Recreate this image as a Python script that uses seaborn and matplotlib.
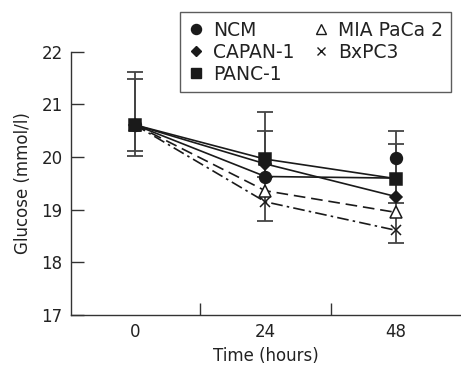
import pandas as pd
import numpy as np
import matplotlib.pyplot as plt
import seaborn as sns
from matplotlib.lines import Line2D

sns.set_style('ticks')
plt.rcParams['font.family'] = ['DejaVu Sans']

# data
times = ['0', '24', '48']
ncm = [20.61, 19.63, 19.98]
ncm_line = [20.61, 19.63, 19.60]   # the printed NCM line runs to 19.6 at 48 h
capan1 = [20.61, 19.87, 19.25]
panc1 = [20.61, 19.96, 19.59]
mia_paca2 = [20.61, 19.36, 18.95]
bxpc3 = [20.61, 19.15, 18.61]

# error bars (time index, low, high)
err_pos = [0, 0, 1, 1, 2, 2]
err_low = [20.01, 20.11, 18.79, 19.63, 18.36, 19.12]
err_high = [21.61, 21.48, 20.85, 20.50, 20.50, 20.25]

series = {'NCM': ncm, 'CAPAN-1': capan1, 'PANC-1': panc1,
          'MIA PaCa 2': mia_paca2, 'BxPC3': bxpc3}
lines = dict(series, NCM=ncm_line)
styles = {
    'NCM': dict(marker='o', ls='-', ms=8.5, mfc='#1a1a1a'),
    'CAPAN-1': dict(marker='D', ls='-', ms=6.5, mfc='#1a1a1a'),
    'PANC-1': dict(marker='s', ls='-', ms=8, mfc='#1a1a1a'),
    'MIA PaCa 2': dict(marker='^', ls=(0, (7, 3.5)), ms=8, mfc='white'),
    'BxPC3': dict(marker='x', ls=(0, (7, 2.5, 1.5, 2.5)), ms=7, mfc='#1a1a1a'),
}
# draw order, PANC-1 last so its square covers the shared start point
order = ['BxPC3', 'MIA PaCa 2', 'CAPAN-1', 'NCM', 'PANC-1']
ink = '#1a1a1a'

pos = np.arange(len(times))
df_line = pd.DataFrame({'pos': np.tile(pos, len(lines)),
                        'glucose': np.concatenate([lines[k] for k in lines]),
                        'line': np.repeat(list(lines), len(times))})

fig = plt.figure(figsize=(4.61, 3.66), dpi=100)
ax = fig.add_axes([0.154, 0.139, 0.846, 0.720])

# error bars first so markers sit on top
mid = (np.array(err_low) + np.array(err_high)) / 2
half = (np.array(err_high) - np.array(err_low)) / 2
ax.errorbar(err_pos, mid, yerr=half, fmt='none', ecolor='#444444',
            elinewidth=1.3, capsize=6, capthick=1.3, zorder=1)

for i, name in enumerate(order):
    st = styles[name]
    sns.lineplot(data=df_line[df_line['line'] == name], x='pos', y='glucose', ax=ax,
                 color=ink, linestyle=st['ls'], linewidth=1.2, zorder=2, legend=False)
    ax.plot(pos, series[name], linestyle='none',
            marker=st['marker'], markersize=st['ms'], markerfacecolor=st['mfc'],
            markeredgecolor=ink, markeredgewidth=1.1, zorder=3 + i)

ax.set_xlim(-0.49, 2.5)
ax.set_ylim(17, 22)
ax.set_xticks(pos)
ax.set_xticklabels(times)
ax.set_xticks([0.5, 1.5], minor=True)
ax.tick_params(axis='x', which='major', length=0, pad=6, labelsize=12, labelcolor='#222222')
ax.tick_params(axis='x', which='minor', direction='in', length=9, width=1, color='#333333')
ax.set_yticks([17, 18, 19, 20, 21, 22])
ax.tick_params(axis='y', direction='in', length=9, width=1, pad=6, labelsize=12,
               color='#333333', labelcolor='#222222')
ax.set_xlabel('Time (hours)', fontsize=12, labelpad=4, color='#222222')
ax.set_ylabel('Glucose (mmol/l)', fontsize=12, labelpad=7, color='#222222')

sns.despine(ax=ax, top=True, right=True)
for s in ['left', 'bottom']:
    ax.spines[s].set_color('#333333')
    ax.spines[s].set_linewidth(1.0)

handles = [Line2D([], [], color=ink, linestyle='none', marker=styles[n]['marker'],
                  markersize=styles[n]['ms'] * 0.85, markerfacecolor=styles[n]['mfc'],
                  markeredgecolor=ink, markeredgewidth=1.0) for n in series]
leg = fig.legend(handles, list(series), loc='upper right', bbox_to_anchor=(0.979, 0.966),
                 ncol=2, fontsize=13.5, frameon=True, fancybox=False, edgecolor='#333333',
                 handlelength=0.8, handletextpad=0.5, columnspacing=1.0,
                 labelspacing=0.15, borderpad=0.45, borderaxespad=0)
leg.get_frame().set_linewidth(1.0)
for t in leg.get_texts():
    t.set_color('#222222')

plt.savefig('out.png', dpi=100)
